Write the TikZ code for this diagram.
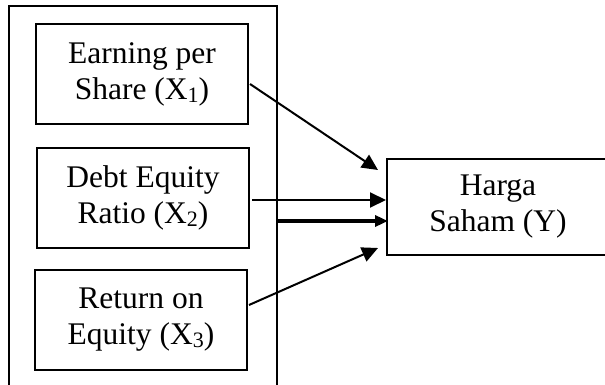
\documentclass[tikz,border=0pt]{standalone}
\usepackage{fontspec}
\setmainfont{Liberation Serif}
\usetikzlibrary{arrows.meta}
\newcommand{\sbx}[1]{{\fontsize{22}{22}\selectfont\raisebox{-3pt}{#1}}}
\begin{document}
\begin{tikzpicture}[x=1pt,y=-1pt,
  frame/.style={line width=2pt},
  varbox/.style={draw,line width=2pt,minimum width=212pt,minimum height=100pt,inner sep=0pt,align=center,font=\fontsize{31.5}{36}\selectfont},
  conn/.style={line width=2pt,-{Triangle[length=16pt,width=15pt]}},
  thickconn/.style={line width=4.2pt,-{Triangle[length=13pt,width=11pt]}}]
\useasboundingbox (0,0) rectangle (605,385);
\draw[frame] (9,390) -- (9,6) -- (277,6) -- (277,390);
\node[varbox] (x1) at (142,74.5) {Earning per\\Share (X\sbx{1})};
\node[varbox] (x2) at (143,198) {Debt Equity\\Ratio (X\sbx{2})};
\node[varbox] (x3) at (141,320) {Return on\\Equity (X\sbx{3})};
\node[varbox,minimum width=222pt,minimum height=96pt] (y) at (498,207) {Harga\\Saham (Y)};
\coordinate (a1s) at (250,84);
\coordinate (a1e) at (378,170);
\coordinate (a2s) at (252,200);
\coordinate (a3s) at (276,221);
\coordinate (a4s) at (249,305);
\coordinate (a4e) at (378,248);
\draw[conn] (a1s) -- (a1e);
\draw[conn] (a2s) -- (y.west |- a2s);
\draw[thickconn] (a3s) -- ([xshift=2pt]y.west |- a3s);
\draw[conn] (a4s) -- (a4e);
\end{tikzpicture}
\end{document}
